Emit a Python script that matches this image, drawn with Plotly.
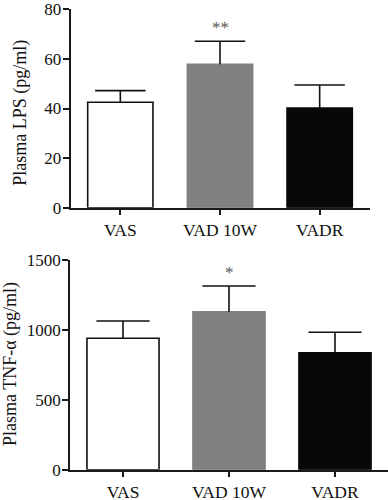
import plotly.graph_objects as go

categories = ["VAS", "VAD 10W", "VADR"]
lps_mean = [42.5, 57.8, 40.2]
lps_err = [4.7, 9.3, 9.3]
tnf_mean = [940, 1130, 837]
tnf_err = [124, 184, 146]
bar_colors = ["#ffffff", "#7f807f", "#070909"]
line_colors = ["#111111", "#7f807f", "#070909"]
sig_lps = ["", "**", ""]
sig_tnf = ["", "*", ""]

FONT = "Liberation Serif, Times New Roman, serif"
AX = "#1a1a1a"

fig = go.Figure()
xpos = list(range(len(categories)))


def add_panel(means, errs, width, cap, xa, ya):
    fig.add_trace(go.Bar(
        x=xpos, y=means, width=width, xaxis=xa, yaxis=ya,
        marker=dict(color=bar_colors, line=dict(color=line_colors, width=1.6)),
        error_y=dict(type="data", array=errs, arrayminus=[0] * len(errs), symmetric=False,
                     color="#111111", thickness=1.6, width=0),
        showlegend=False, hoverinfo="skip",
    ))
    tops = [m + e for m, e in zip(means, errs)]
    fig.add_trace(go.Scatter(
        x=xpos, y=tops, mode="markers", xaxis=xa, yaxis=ya,
        marker=dict(symbol="line-ew-open", size=cap, color="#111111",
                    line=dict(width=1.6, color="#111111")),
        showlegend=False, hoverinfo="skip", cliponaxis=False,
    ))


add_panel(lps_mean, lps_err, 0.655, 36, "x", "y")
add_panel(tnf_mean, tnf_err, 0.68, 38, "x2", "y2")

annotations = []
for i, s in enumerate(sig_lps):
    if s:
        annotations.append(dict(x=i, y=lps_mean[i] + lps_err[i], xref="x", yref="y",
                                text=s, showarrow=False, yshift=14, yanchor="middle",
                                font=dict(family=FONT, size=17, color="#555555")))
for i, s in enumerate(sig_tnf):
    if s:
        annotations.append(dict(x=i, y=tnf_mean[i] + tnf_err[i], xref="x2", yref="y2",
                                text=s, showarrow=False, yshift=14, yanchor="middle",
                                font=dict(family=FONT, size=17, color="#555555")))
annotations.append(dict(x=20.3/388, y=1 - 112.5/500, xref="paper", yref="paper",
                        text="Plasma LPS (pg/ml)", textangle=-90, showarrow=False,
                        xanchor="center", yanchor="middle",
                        font=dict(family=FONT, size=18, color="#111111")))
annotations.append(dict(x=10/388, y=1 - 364/500, xref="paper", yref="paper",
                        text="Plasma TNF-\u03b1 (pg/ml)", textangle=-90, showarrow=False,
                        xanchor="center", yanchor="middle",
                        font=dict(family=FONT, size=18, color="#111111")))

xcommon = dict(
    tickmode="array", tickvals=xpos, ticktext=categories, range=[-0.5, 2.5],
    showline=True, linecolor=AX, linewidth=1.6, ticks="outside", ticklen=5,
    tickwidth=1.6, tickcolor=AX, showgrid=False, zeroline=False, automargin=False,
    tickfont=dict(family=FONT, size=17.5, color="#111111"),
)
ycommon = dict(
    showline=True, linecolor=AX, linewidth=1.6, ticks="outside", ticklen=6,
    tickwidth=1.6, tickcolor=AX, showgrid=False, zeroline=False, automargin=False,
    ticklabelstandoff=-2,
    tickfont=dict(family=FONT, size=17, color="#111111"),
)

fig.update_layout(
    width=388, height=500,
    margin=dict(l=0, r=0, t=0, b=0, autoexpand=False),
    paper_bgcolor="white", plot_bgcolor="white",
    xaxis=dict(domain=[70.5/388, 369.5/388], anchor="y", **xcommon),
    yaxis=dict(domain=[1 - 207.7/500, 1 - 9.3/500], anchor="x", range=[0, 80],
               tickvals=[0, 20, 40, 60, 80], **ycommon),
    xaxis2=dict(domain=[70/388, 1.0], anchor="y2", **xcommon),
    yaxis2=dict(domain=[1 - 469.7/500, 1 - 260/500], anchor="x2", range=[0, 1500],
                tickvals=[0, 500, 1000, 1500], **ycommon),
    annotations=annotations,
)

fig.write_html(
    "out.html",
    config={"displayModeBar": False},
    post_script="document.body.style.margin='0';document.body.style.padding='0';"
                "document.body.style.overflow='hidden';",
)
